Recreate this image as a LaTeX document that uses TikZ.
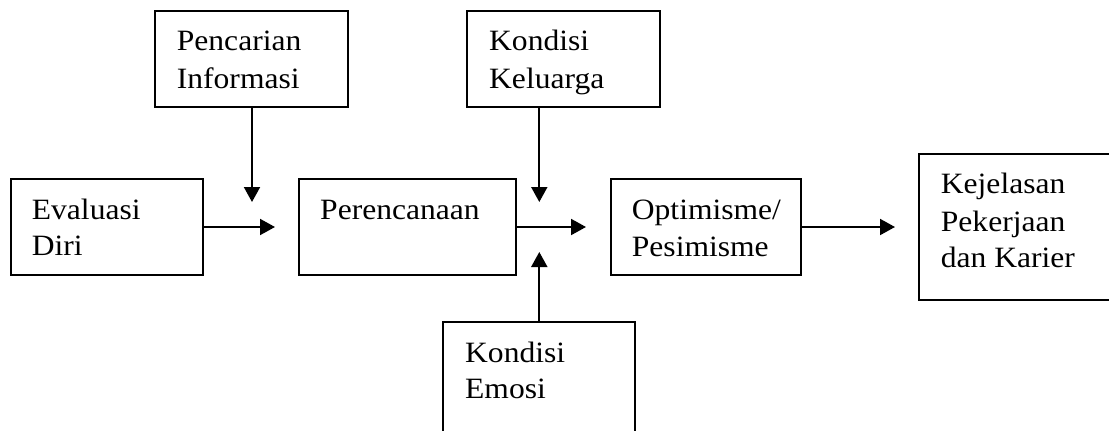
\documentclass[tikz,border=0pt]{standalone}
\usepackage{fontspec}
\setmainfont{Liberation Serif}[FakeStretch=1.07]
\usetikzlibrary{arrows.meta}
\tikzset{
  box/.style={draw, line width=2pt, inner sep=0pt, rectangle},
  lbl/.style={anchor=base west, inner sep=0pt, font=\fontsize{29.5}{37}\selectfont},
  arr/.style={line width=2pt, -{Triangle[length=15pt,width=16pt]}}
}
\begin{document}
\begin{tikzpicture}[x=1pt,y=-1pt]
\useasboundingbox (0,0) rectangle (1109,431);
\clip (0,0) rectangle (1109,431);
% boxes
\node[box, minimum width=192pt, minimum height=96pt] (eval) at (107,227) {};
\node[box, minimum width=192.7pt, minimum height=96pt] (cari) at (251.35,59) {};
\node[box, minimum width=217pt, minimum height=96pt] (rencana) at (407.5,227) {};
\node[box, minimum width=193pt, minimum height=96pt] (keluarga) at (563.5,59) {};
\node[box, minimum width=190pt, minimum height=96pt] (optim) at (706,227) {};
\node[box, minimum width=192.7pt, minimum height=145.7pt] (jelas) at (1015.65,227.15) {};
\node[box, minimum width=191.7pt, minimum height=118pt] (emosi) at (539.15,381) {};
% labels
\node[lbl] (t1) at (31.7,219) {Evaluasi};
\node[lbl] (t2) at (31.7,255.7) {Diri};
\node[lbl] (t3) at (176.7,50.7) {Pencarian};
\node[lbl] (t4) at (176.7,88.3) {Informasi};
\node[lbl] (t5) at (320,219.3) {Perencanaan};
\node[lbl] (t6) at (489,50.7) {Kondisi};
\node[lbl] (t7) at (489,88.3) {Keluarga};
\node[lbl] (t8) at (631.7,219.3) {Optimisme/};
\node[lbl] (t9) at (631.7,256) {Pesimisme};
\node[lbl] (t10) at (940.7,193.3) {Kejelasan};
\node[lbl] (t11) at (940.7,231) {Pekerjaan};
\node[lbl] (t12) at (940.7,267.7) {dan Karier};
\node[lbl] (t13) at (465,362.3) {Kondisi};
\node[lbl] (t14) at (465,398.3) {Emosi};
% arrow ends
\coordinate (e1) at (275,227);
\coordinate (e2) at (252,202);
\coordinate (e3) at (586,227);
\coordinate (e4) at (539.3,202);
\coordinate (e5) at (539.3,252);
\coordinate (e6) at (895,227);
% arrows
\draw[arr] (eval.east) -- (e1);
\draw[arr] (cari.south -| e2) -- (e2);
\draw[arr] (rencana.east) -- (e3);
\draw[arr] (keluarga.south -| e4) -- (e4);
\draw[arr] (emosi.north -| e5) -- (e5);
\draw[arr] (optim.east) -- (e6);
\end{tikzpicture}
\end{document}
